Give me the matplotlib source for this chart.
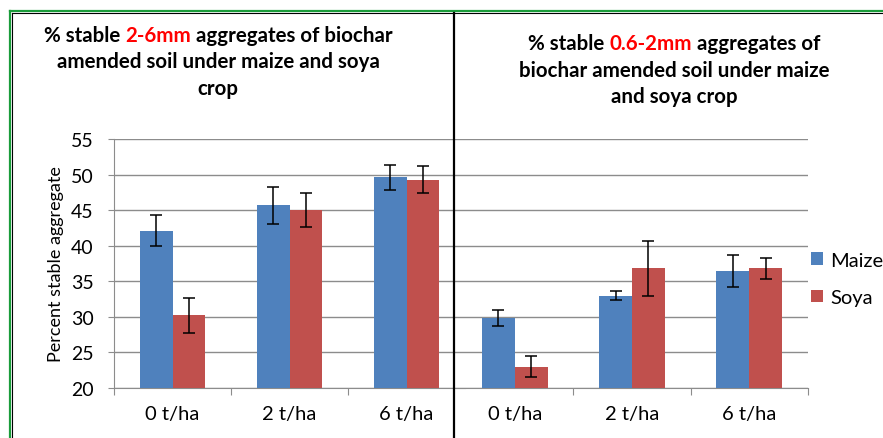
import numpy as np
import matplotlib
matplotlib.use("Agg")
import matplotlib.pyplot as plt
from matplotlib.patches import Patch
from matplotlib.lines import Line2D

# values
doses = ["0 t/ha", "2 t/ha", "6 t/ha"]
series = ["Maize", "Soya"]

big_maize = [42.1, 45.7, 49.6]
big_maize_err = [2.2, 2.6, 1.7]
big_soya = [30.2, 45.0, 49.3]
big_soya_err = [2.4, 2.4, 1.95]

small_maize = [29.8, 33.0, 36.5]
small_maize_err = [1.1, 0.7, 2.25]
small_soya = [23.0, 36.8, 36.8]
small_soya_err = [1.5, 3.85, 1.45]

left_title = [[("% stable", "black"), ("2-6mm", "#ff0000"), ("aggregates of biochar", "black")],
              [("amended soil under maize and soya", "black")],
              [("crop", "black")]]
right_title = [[("% stable", "black"), ("0.6-2mm", "#ff0000"), ("aggregates of", "black")],
               [("biochar amended soil under maize", "black")],
               [("and soya crop", "black")]]

BLUE = "#4F81BD"
RED = "#C0504D"
GRID = "#8c8c8c"

plt.rcParams["font.family"] = ["Lato", "DejaVu Sans"]

W, H = 883, 439
fig = plt.figure(figsize=(W / 100, H / 100), dpi=100)


def box(x0, y0, x1, y1):
    # pixel box (from top-left) -> figure fraction
    return [x0 / W, 1 - y1 / H, (x1 - x0) / W, (y1 - y0) / H]


def draw_bars(ax, maize, maize_err, soya, soya_err):
    x = np.arange(len(doses)) + 0.5
    bw = 0.28
    ekw = dict(ecolor="black", elinewidth=1.1, capsize=4, capthick=1.1)
    ax.bar(x - bw / 2, maize, bw, color=BLUE, yerr=maize_err, error_kw=ekw, zorder=3)
    ax.bar(x + bw / 2, soya, bw, color=RED, yerr=soya_err, error_kw=ekw, zorder=3)
    ax.set_xlim(0, 3)
    ax.set_ylim(20, 55)
    ax.set_yticks(np.arange(20, 56, 5))
    ax.grid(axis="y", color=GRID, linewidth=1.0, zorder=0)
    ax.set_axisbelow(True)
    ax.set_xticks(x, minor=True)
    ax.set_xticklabels(doses, minor=True)
    ax.tick_params(axis="x", which="minor", length=0, pad=12, labelsize=14.5)
    for s in ["top", "right"]:
        ax.spines[s].set_visible(False)
    for s in ["left", "bottom"]:
        ax.spines[s].set_color(GRID)


axL = fig.add_axes(box(114, 140, 465, 389))
draw_bars(axL, big_maize, big_maize_err, big_soya, big_soya_err)
axL.set_xticks([0, 1, 2])
axL.set_xticklabels([])
axL.tick_params(axis="x", which="major", length=5, color=GRID)
axL.tick_params(axis="y", length=4.5, color=GRID, labelsize=14, pad=10)
axL.set_ylabel("Percent stable aggregate", fontsize=13, labelpad=5)

axR = fig.add_axes(box(456, 140, 808, 389))
axR.set_zorder(2)
axR.set_facecolor("white")
draw_bars(axR, small_maize, small_maize_err, small_soya, small_soya_err)
axR.set_xticks([1, 2, 3])
axR.set_xticklabels([])
axR.tick_params(axis="x", which="major", length=5, color=GRID)
axR.tick_params(axis="y", length=0, labelleft=False)
axR.spines["left"].set_visible(False)

fig.legend(handles=[Patch(facecolor=BLUE), Patch(facecolor=RED)], labels=series,
           loc="center left", bbox_to_anchor=(811 / W, 1 - 280 / H), frameon=False,
           fontsize=14.5, handlelength=0.6, handleheight=0.6, handletextpad=0.35,
           labelspacing=1.0, borderpad=0, borderaxespad=0)

# titles with coloured words
renderer = fig.canvas.get_renderer()
tkw = dict(fontsize=14.8, fontweight="bold", va="baseline", ha="left")


def width_px(s):
    t = fig.text(0, 0, s, **tkw)
    w = t.get_window_extent(renderer).width
    t.remove()
    return w


space = width_px("x x") - width_px("xx")


def title_block(cx, baselines, lines):
    for yb, parts in zip(baselines, lines):
        ws = [width_px(s) for s, c in parts]
        total = sum(ws) + space * (len(parts) - 1)
        x = cx - total / 2
        for (s, c), w in zip(parts, ws):
            fig.text(x / W, 1 - yb / H, s, color=c, **tkw)
            x += w + space


title_block(218, [42, 68.5, 95], left_title)
title_block(674, [50, 77, 103], right_title)

# table-like frame around the two charts
fig.add_artist(Line2D([10 / W, 10 / W], [0, 1 - 12 / H], color="#1a9c3a", lw=1.6))
fig.add_artist(Line2D([10 / W, 1], [1 - 12 / H, 1 - 12 / H], color="#1a9c3a", lw=1.6))
fig.add_artist(Line2D([12 / W, 12 / W], [0, 1 - 14 / H], color="black", lw=0.8))
fig.add_artist(Line2D([12 / W, 1], [1 - 14 / H, 1 - 14 / H], color="black", lw=0.8))
divider = Line2D([454 / W, 454 / W], [0, 1 - 14 / H], color="black", lw=1.6)
divider.set_zorder(5)
fig.add_artist(divider)

fig.savefig("out.png", dpi=100)
